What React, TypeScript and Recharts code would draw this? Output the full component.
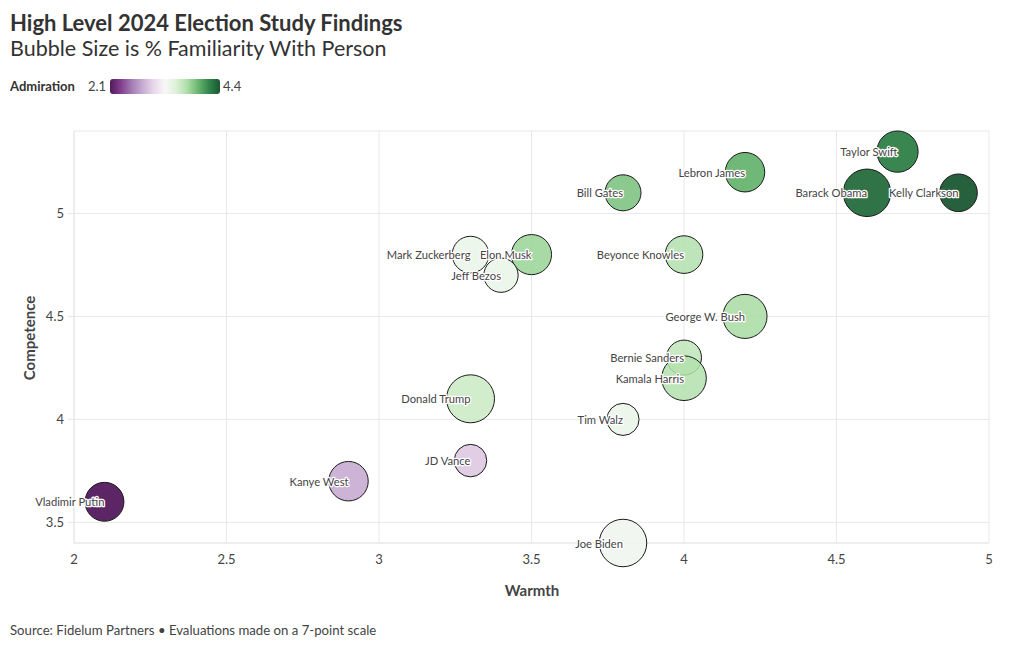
import React from "react";
import { ScatterChart, Scatter, XAxis, YAxis, ZAxis, CartesianGrid, Cell, LabelList } from "recharts";

const FONT = "Lato, 'Noto Sans', sans-serif";
const TEXT_COLOR = "#444";
const GRID_COLOR = "#e8e8e8";

const names = [
  "Taylor Swift", "Lebron James", "Bill Gates", "Barack Obama", "Kelly Clarkson",
  "Mark Zuckerberg", "Elon Musk", "Jeff Bezos", "Beyonce Knowles", "George W. Bush",
  "Bernie Sanders", "Kamala Harris", "Donald Trump", "Tim Walz", "JD Vance",
  "Kanye West", "Vladimir Putin", "Joe Biden",
];
const warmth = [4.7, 4.2, 3.8, 4.6, 4.9, 3.3, 3.5, 3.4, 4.0, 4.2, 4.0, 4.0, 3.3, 3.8, 3.3, 2.9, 2.1, 3.8];
const competence = [5.3, 5.2, 5.1, 5.1, 5.1, 4.8, 4.8, 4.7, 4.8, 4.5, 4.3, 4.2, 4.1, 4.0, 3.8, 3.7, 3.6, 3.4];
const familiarity = [71, 65, 54, 94, 59, 56, 67, 49, 59, 81, 51, 83, 96, 43, 44, 65, 63, 94];
const admiration = [4.2, 3.95, 3.85, 4.3, 4.4, 3.35, 3.75, 3.35, 3.65, 3.7, 3.6, 3.65, 3.55, 3.35, 2.95, 2.8, 2.1, 3.3];

const xTicks = [2, 2.5, 3, 3.5, 4, 4.5, 5];
const yTicks = [3.5, 4, 4.5, 5];
const admirationRange = [2.1, 4.4];

// PRGn diverging scale
const PRGN = ["#40004b", "#762a83", "#9970ab", "#c2a5cf", "#e7d4e8", "#f7f7f7", "#d9f0d3", "#a6dba0", "#5aae61", "#1b7837", "#00441b"];

const hexToRgb = (h: string) => [1, 3, 5].map((i) => parseInt(h.slice(i, i + 2), 16));

const colorFor = (v: number) => {
  const t = Math.max(0, Math.min(1, (v - admirationRange[0]) / (admirationRange[1] - admirationRange[0])));
  const pos = t * (PRGN.length - 1);
  const i = Math.min(PRGN.length - 2, Math.floor(pos));
  const f = pos - i;
  const a = hexToRgb(PRGN[i]);
  const b = hexToRgb(PRGN[i + 1]);
  const c = a.map((v0, k) => Math.round(v0 + (b[k] - v0) * f));
  return `rgb(${c[0]},${c[1]},${c[2]})`;
};

const data = names.map((name, i) => ({
  name,
  warmth: warmth[i],
  competence: competence[i],
  familiarity: familiarity[i],
  admiration: admiration[i],
}));

const renderLabel = (props: any) => {
  const vb = props.viewBox ?? props;
  const x = (vb.x ?? 0) + (vb.width ?? 0) / 2;
  const y = (vb.y ?? 0) + (vb.height ?? 0) / 2;
  return (
    <text
      x={x}
      y={y}
      textAnchor="end"
      dominantBaseline="central"
      fontFamily={FONT}
      fontSize={11.2}
      fill={TEXT_COLOR}
      stroke="#fff"
      strokeWidth={2.5}
      strokeLinejoin="round"
      style={{ paintOrder: "stroke" }}
    >
      {props.value}
    </text>
  );
};

export default function App() {
  const gradient = `linear-gradient(to right, ${PRGN.join(", ")})`;
  return (
    <div style={{ position: "relative", width: 1020, height: 650, background: "#fff", fontFamily: FONT, color: "#333" }}>
      <style>{`body { margin: 0; }`}</style>
      <div style={{ position: "absolute", left: 10, top: 9, fontSize: 22, fontWeight: 700, color: "#333" }}>
        High Level 2024 Election Study Findings
      </div>
      <div style={{ position: "absolute", left: 10, top: 35, fontSize: 21.5, fontWeight: 400, color: "#333" }}>
        Bubble Size is % Familiarity With Person
      </div>
      <div style={{ position: "absolute", left: 10, top: 78, height: 16, display: "flex", alignItems: "center", fontSize: 13 }}>
        <span style={{ fontWeight: 700, color: "#333", marginRight: 13 }}>Admiration</span>
        <span style={{ color: TEXT_COLOR, marginRight: 4 }}>2.1</span>
        <div style={{ width: 110, height: 15, borderRadius: 3, background: gradient, opacity: 0.9 }} />
        <span style={{ color: TEXT_COLOR, marginLeft: 3 }}>4.4</span>
      </div>

      <div style={{ position: "absolute", left: 0, top: 0 }}>
        <ScatterChart width={1020} height={650} margin={{ top: 131, right: 31, bottom: 77, left: 14 }}>
          <CartesianGrid stroke={GRID_COLOR} />
          <XAxis
            type="number"
            dataKey="warmth"
            domain={[2, 5]}
            ticks={xTicks}
            height={30}
            tickLine={false}
            axisLine={{ stroke: GRID_COLOR }}
            tick={{ fill: TEXT_COLOR, fontSize: 13, fontFamily: FONT }}
            tickMargin={6}
          />
          <YAxis
            type="number"
            dataKey="competence"
            domain={[3.4, 5.4]}
            ticks={yTicks}
            width={60}
            tickSize={6}
            tickLine={{ stroke: GRID_COLOR }}
            axisLine={{ stroke: GRID_COLOR }}
            tick={{ fill: TEXT_COLOR, fontSize: 13, fontFamily: FONT }}
            tickMargin={4}
          />
          <ZAxis type="number" dataKey="familiarity" domain={[0, 100]} range={[0, 1885]} />
          <Scatter data={data} stroke="#1a1a1a" strokeWidth={1} fillOpacity={0.85} isAnimationActive={false}>
            {data.map((d, i) => (
              <Cell key={`cell-${i}`} fill={colorFor(d.admiration)} />
            ))}
            <LabelList dataKey="name" content={renderLabel} />
          </Scatter>
        </ScatterChart>
      </div>

      <div style={{ position: "absolute", left: 532, top: 581, transform: "translateX(-50%)", fontSize: 15, fontWeight: 700, color: TEXT_COLOR }}>
        Warmth
      </div>
      <div
        style={{
          position: "absolute",
          left: 29,
          top: 338,
          transform: "translate(-50%, -50%) rotate(-90deg)",
          fontSize: 15,
          fontWeight: 700,
          color: TEXT_COLOR,
          whiteSpace: "nowrap",
        }}
      >
        Competence
      </div>
      <div style={{ position: "absolute", left: 10, top: 622, fontSize: 13.2, color: TEXT_COLOR }}>
        Source: Fidelum Partners • Evaluations made on a 7-point scale
      </div>
    </div>
  );
}
